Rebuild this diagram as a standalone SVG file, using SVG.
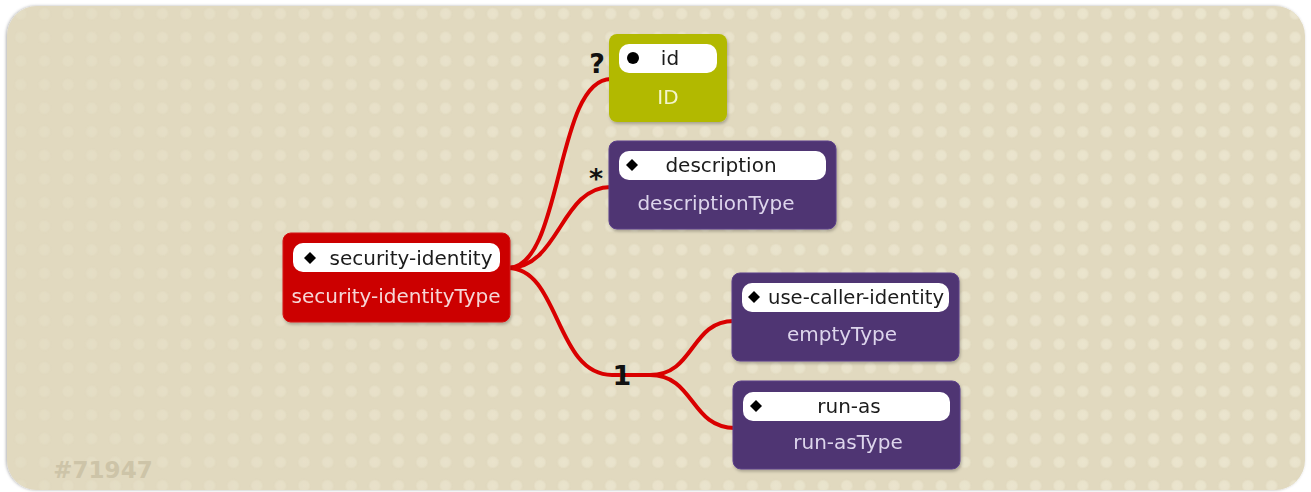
<svg xmlns="http://www.w3.org/2000/svg" width="1311" height="492" viewBox="0 0 1311 492">
<style>
.pill{fill:#ffffff}
.nm{font-family:"DejaVu Sans",sans-serif;font-size:20px;fill:#1a1a1a;text-anchor:middle}
.ty{font-family:"DejaVu Sans",sans-serif;font-size:20px;text-anchor:middle}
.mult{font-family:"DejaVu Sans",sans-serif;font-weight:bold;font-size:27px;fill:#111;text-anchor:middle}
.conn{fill:none;stroke:#d90000;stroke-width:4}
.purple{fill:#4f3673;stroke:#5b3f8a;stroke-width:1}
.ptype{fill:#ddd5ec}
</style>
<defs>
<radialGradient id="dotg">
<stop offset="0" stop-color="#ebe5cf"/>
<stop offset="0.7" stop-color="#e9e3cc"/>
<stop offset="1" stop-color="#e1d9bf"/>
</radialGradient>
<pattern id="dots" x="9" y="2" width="23.6" height="23.6" patternUnits="userSpaceOnUse">
<circle cx="11.8" cy="11.8" r="6.5" fill="url(#dotg)"/>
</pattern>
<linearGradient id="fade" x1="0" y1="0" x2="1" y2="0">
<stop offset="0" stop-color="#fff" stop-opacity="0.3"/>
<stop offset="0.4" stop-color="#fff" stop-opacity="0.85"/>
<stop offset="1" stop-color="#fff" stop-opacity="1"/>
</linearGradient>
<mask id="m"><rect x="7" y="6" width="1298" height="484" fill="url(#fade)"/></mask>
<clipPath id="bgclip"><rect x="7" y="6" width="1298" height="484" rx="30"/></clipPath>
<filter id="sh" x="-10%" y="-10%" width="120%" height="130%">
<feDropShadow dx="1" dy="2" stdDeviation="1.5" flood-color="#000" flood-opacity="0.25"/>
</filter>
<filter id="bsh" x="-2%" y="-2%" width="104%" height="104%">
<feDropShadow dx="-1" dy="0" stdDeviation="1.5" flood-color="#000" flood-opacity="0.3"/>
</filter>
</defs>
<rect x="0" y="0" width="1311" height="492" fill="#ffffff"/>
<rect x="7" y="6" width="1298" height="484" rx="30" fill="#e1d9bf" filter="url(#bsh)"/>
<g clip-path="url(#bgclip)"><rect x="7" y="6" width="1298" height="484" fill="url(#dots)" mask="url(#m)"/></g>
<text x="103" y="478" style="font-family:'DejaVu Sans',sans-serif;font-weight:bold;font-size:23px;fill:#cdc4a8;text-anchor:middle">#71947</text>

<g id="connectors">
<path class="conn" d="M508,268 C563,268 555,79 611,79"/>
<path class="conn" d="M508,268 C560,268 560,187 611,187"/>
<path class="conn" d="M508,268 C560,268 555,375 612,375 L655,375"/>
<path class="conn" d="M650,375 C695,375 690,321 734,321"/>
<path class="conn" d="M650,375 C695,375 690,428 735,428"/>
<text class="mult" x="597" y="73">?</text>
<text class="mult" x="596" y="188">*</text>
<text class="mult" x="622" y="385">1</text>
</g>

<g id="node-security-identity" filter="url(#sh)">
<rect x="283" y="233" width="227" height="89" rx="8" fill="#cc0000" stroke="#d41010"/>
<rect class="pill" x="293" y="243" width="207" height="29" rx="10"/>
<path d="M310,252 L316,258 L310,264 L304,258 Z" fill="#000"/>
<text class="nm" x="411" y="265">security-identity</text>
<text class="ty" x="396" y="303" fill="#f6d6d6">security-identityType</text>
</g>

<g id="node-id" filter="url(#sh)">
<rect x="609" y="34" width="118" height="88" rx="8" fill="#b2b900"/>
<rect class="pill" x="619" y="44" width="98" height="29" rx="10"/>
<circle cx="633" cy="58" r="6" fill="#000"/>
<text class="nm" x="670" y="65">id</text>
<text class="ty" x="668" y="104" fill="#f3f5cc">ID</text>
</g>

<g id="node-description" filter="url(#sh)">
<rect class="purple" x="609" y="141" width="227" height="88" rx="8"/>
<rect class="pill" x="619" y="151" width="207" height="29" rx="10"/>
<path d="M632,159 L638,165 L632,171 L626,165 Z" fill="#000"/>
<text class="nm" x="721" y="172">description</text>
<text class="ty ptype" x="716" y="210">descriptionType</text>
</g>

<g id="node-use-caller-identity" filter="url(#sh)">
<rect class="purple" x="732" y="273" width="227" height="88" rx="8"/>
<rect class="pill" x="742" y="283" width="207" height="29" rx="10"/>
<path d="M754,291 L760,297 L754,303 L748,297 Z" fill="#000"/>
<text class="nm" x="856" y="304" textLength="176" lengthAdjust="spacingAndGlyphs">use-caller-identity</text>
<text class="ty ptype" x="842" y="341">emptyType</text>
</g>

<g id="node-run-as" filter="url(#sh)">
<rect class="purple" x="733" y="381" width="227" height="88" rx="8"/>
<rect class="pill" x="743" y="392" width="207" height="29" rx="10"/>
<path d="M756,400 L762,406 L756,412 L750,406 Z" fill="#000"/>
<text class="nm" x="849" y="413">run-as</text>
<text class="ty ptype" x="848" y="449">run-asType</text>
</g>
</svg>
